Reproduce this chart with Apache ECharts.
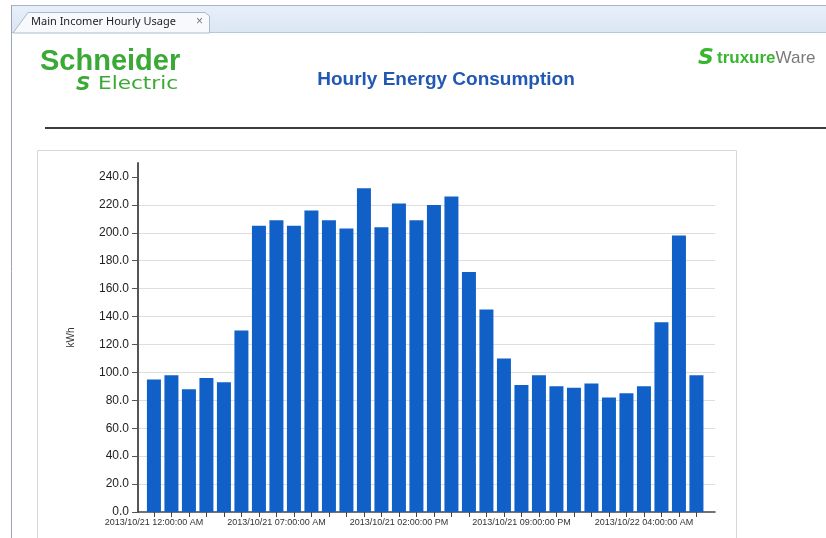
<!DOCTYPE html>
<html lang="en">
  <head>
    <meta charset="UTF-8" />
    <title>Hourly Energy Consumption</title>
    <style>
      html, body { margin: 0; padding: 0; background: #fff; }
    </style>
  </head>
  <body>
    <div id="main" style="width: 826px; height: 538px"></div>

    <script src="https://cdn.jsdelivr.net/npm/echarts@6.0.0/dist/echarts.min.js"></script>
    <script>
      // hourly kWh, 2013/10/21 00:00 -> 2013/10/22 07:00
      const kwh = [
        95, 98, 88, 96, 93, 130, 205, 209, 205, 216, 209, 203, 232, 204, 221, 209,
        220, 226, 172, 145, 110, 91, 98, 90, 89, 92, 82, 85, 90, 136, 198, 98
      ]
      // which hours carry a label, and the label text
      const labelAt = [0, 7, 14, 21, 28]
      const hourLabels = [
        '2013/10/21 12:00:00 AM',
        '2013/10/21 07:00:00 AM',
        '2013/10/21 02:00:00 PM',
        '2013/10/21 09:00:00 PM',
        '2013/10/22 04:00:00 AM'
      ]
      const yTicks = [0, 20, 40, 60, 80, 100, 120, 140, 160, 180, 200, 220, 240]

      const green = '#3aa935'

      window.onload = function () {
        const myChart = echarts.init(document.getElementById('main'))

        const option = {
          animation: false,
          backgroundColor: '#fff',
          textStyle: { fontFamily: 'Liberation Sans' },
          graphic: [
            // tab strip
            { type: 'rect', z: -10, shape: { x: 11, y: 5, width: 815, height: 28 },
              style: { fill: new echarts.graphic.LinearGradient(0, 0, 0, 1, [
                { offset: 0, color: '#e8eff9' }, { offset: 1, color: '#dbe6f4' }]) } },
            { type: 'line', shape: { x1: 11, y1: 5.5, x2: 826, y2: 5.5 }, style: { stroke: '#a5b4c6', lineWidth: 1 } },
            { type: 'line', shape: { x1: 11, y1: 32.5, x2: 826, y2: 32.5 }, style: { stroke: '#b6c8dc', lineWidth: 1 } },
            { type: 'line', shape: { x1: 11.5, y1: 5, x2: 11.5, y2: 538 }, style: { stroke: '#9aa6b4', lineWidth: 1 } },
            { type: 'polygon', shape: { points: [[13, 33], [28, 12.5], [205, 12.5], [209.5, 16], [209.5, 33]] },
              style: { fill: '#f7f9fc', stroke: '#a7bad0', lineWidth: 1 } },
            { type: 'text', x: 31, y: 22, style: { text: 'Main Incomer Hourly Usage', fontSize: 11,
              fontFamily: 'Noto Sans', fill: '#1e1e1e', verticalAlign: 'middle' } },
            { type: 'text', x: 196, y: 22, style: { text: '×', fontSize: 12, fill: '#777', verticalAlign: 'middle' } },

            // Schneider Electric logo
            { type: 'text', x: 40, y: 62, style: { text: 'Schneider', fontSize: 29, fontWeight: 'bold',
              fontFamily: 'Liberation Sans', fill: green, verticalAlign: 'middle' } },
            { type: 'text', x: 76, y: 85, style: { text: 'S', fontSize: 20, fontWeight: 'bold', fontStyle: 'italic',
              fontFamily: 'DejaVu Sans', fill: green, verticalAlign: 'middle' } },
            { type: 'text', x: 98, y: 84, scaleX: 1.2, style: { text: 'Electric', fontSize: 18,
              fontFamily: 'DejaVu Sans', fill: green, verticalAlign: 'middle' } },

            // StruxureWare logo
            { type: 'text', x: 698, y: 58, style: { text: 'S', fontSize: 22, fontWeight: 'bold', fontStyle: 'italic',
              fontFamily: 'DejaVu Sans', fill: '#39b62f', verticalAlign: 'middle' } },
            { type: 'text', x: 717, y: 58, style: {
              text: '{g|truxure}{w|Ware}', verticalAlign: 'middle',
              rich: {
                g: { fontSize: 17, fontWeight: 'bold', fontFamily: 'Liberation Sans', fill: '#39b62f' },
                w: { fontSize: 17, fontFamily: 'Liberation Sans', fill: '#7a7a7a' }
              } } },

            // title
            { type: 'text', x: 446, y: 80, style: { text: 'Hourly Energy Consumption', fontSize: 19, fontWeight: 'bold',
              fontFamily: 'Liberation Sans', fill: '#2258b5', align: 'center', verticalAlign: 'middle' } },

            // rule under header
            { type: 'line', shape: { x1: 45, y1: 128, x2: 826, y2: 128 }, style: { stroke: '#3c3c3c', lineWidth: 2 } },

            // chart panel frame
            { type: 'rect', z: -5, shape: { x: 37.5, y: 150.5, width: 699, height: 400 },
              style: { fill: '#fff', stroke: '#d8d8d8', lineWidth: 1 } }
          ],
          grid: {
            left: 138,
            right: 111,
            top: 163,
            bottom: 26
          },
          xAxis: {
            type: 'value',
            min: -0.91,
            max: 32.06,
            axisLine: { show: true, lineStyle: { color: '#444', width: 1.5 } },
            axisTick: {
              show: true,
              customValues: kwh.map((v, i) => i),
              length: 5,
              lineStyle: { color: '#444' }
            },
            axisLabel: {
              customValues: labelAt,
              formatter: v => hourLabels[labelAt.indexOf(v)],
              fontSize: 9,
              color: '#333',
              margin: 6
            },
            splitLine: { show: false }
          },
          yAxis: {
            type: 'value',
            min: 0,
            max: 250,
            interval: 20,
            name: 'kWh',
            nameLocation: 'middle',
            nameGap: 62,
            nameTextStyle: { fontSize: 10, color: '#333' },
            axisLine: { show: true, onZero: false, lineStyle: { color: '#555', width: 2 } },
            axisTick: {
              show: true,
              customValues: yTicks,
              length: 6,
              lineStyle: { color: '#555' }
            },
            axisLabel: {
              customValues: yTicks,
              formatter: v => v.toFixed(1),
              fontSize: 12,
              color: '#222',
              margin: 9
            },
            splitLine: {
              show: true,
              showMinLine: false,
              showMaxLine: false,
              lineStyle: { color: '#dedede' }
            }
          },
          series: [
            {
              type: 'bar',
              barWidth: 14,
              itemStyle: { color: '#1060c8' },
              data: kwh.map((v, i) => [i, v])
            }
          ]
        }

        myChart.setOption(option)
      }
    </script>
  </body>
</html>
